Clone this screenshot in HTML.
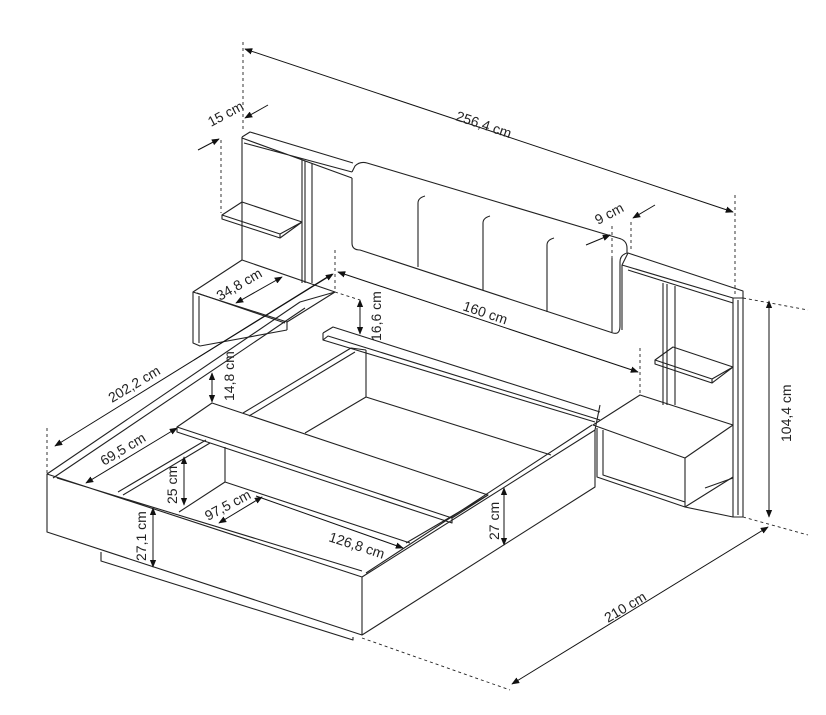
<!DOCTYPE html>
<html><head><meta charset="utf-8"><style>
html,body{margin:0;padding:0;background:#fff;}
svg{display:block;}
text{font-family:"Liberation Sans",sans-serif;font-size:14px;fill:#222;}
</style></head><body>
<svg width="826" height="715" viewBox="0 0 826 715" xmlns="http://www.w3.org/2000/svg">
<defs>
<marker id="a" viewBox="0 0 10 10" refX="9" refY="5" markerWidth="8" markerHeight="8" orient="auto-start-reverse"><path d="M0,1 L10,5 L0,9 z" fill="#111"/></marker>
</defs>
<g fill="none" stroke="#222" stroke-width="1.1" stroke-linejoin="round">
<g stroke-dasharray="3,3" stroke-width="0.9">
<line x1="243" y1="42" x2="243" y2="132"/>
<line x1="735" y1="195" x2="735" y2="296"/>
<line x1="743" y1="298" x2="808" y2="310"/>
<line x1="743" y1="517" x2="808" y2="535"/>
<line x1="221" y1="140" x2="221" y2="213"/>
<line x1="631" y1="222" x2="631" y2="250"/>
<line x1="612" y1="226" x2="612" y2="268"/>
<line x1="335" y1="250" x2="335" y2="292"/>
<line x1="640" y1="348" x2="640" y2="395"/>
<line x1="47" y1="428" x2="47" y2="473"/>
<line x1="362" y1="638" x2="510" y2="690"/>
<line x1="335" y1="292" x2="360" y2="300"/>
</g>
<path d="M242,137 L250,132 L353,163 M242,137 L242,260 M242,138 L352,178 M244,143 L352,172"/>
<path d="M302,160 L302,283 M305,161 L305,283 M312,163 L312,283"/>
<path d="M222,215 L242,202 L302,222 L280,238 L222,219 Z M222,215 L280,234 L302,222 M280,234 L280,238"/>
<path d="M352,178 L352,243 Q352,250 360,250 L613,333 Q620,335 620,326 L620,262 Q620,255 627,253 L627,248 Q627,240 618,238 L367,163 Q360,161 355,166 L352,172"/>
<path d="M612,258 L612,332"/>
<path d="M418,267 L418,203 Q418,198 425,196 M483,290 L483,223 Q483,218 490,216 M547,312 L547,245 Q547,240 554,238"/>
<path d="M622,265 L628,253 L743,291 L743,298 L733,298 L622,265 M622,265 L622,330"/>
<path d="M628,270 L733,303"/>
<path d="M733,298 L733,517 L743,517 L743,298 M738,300 L738,515"/>
<path d="M663,283 L663,405 M667,284 L667,405 M675,286 L675,405"/>
<path d="M655,360 L673,347 L733,367 L712,383 L655,364 Z M655,360 L712,379 L733,367 M712,379 L712,383"/>
<path d="M685,507 L733,517 M705,488 L733,478"/>
<path d="M193,292 L242,260 L335,292 L287,322 Z"/>
<path d="M193,292 L193,343 L200,346 L287,330 M287,322 L287,330 M199,296 L199,343 M197,293 L285,323"/>
<path d="M593,425 L640,395 L733,425 L685,458 Z"/>
<path d="M597,428 L597,477 L685,507 L685,458 M603,430 L603,475 L685,502 M685,507 L733,477"/>
<path d="M47,474 L300,302 M53,478 L305,308 M300,302 L335,292"/>
<path d="M47,474 L362,577 L362,635 L47,532 Z M57,478 L362,571"/>
<path d="M101,552 L101,561 L353,640 L353,637"/>
<path d="M362,577 L595,430 L600,405 M362,635 L595,487 L595,430 M366,573 L592,425"/>
<path d="M323,333 L333,327 L600,412 M323,333 L323,340 L595,422 M323,340 L328,336 L600,420"/>
<path d="M366,350 L366,397 L551,455 M366,397 L305,433"/>
<path d="M243,413 L351,348 M249,416 L355,352 M366,350 L351,348"/>
<path d="M177,427 L212,403 L488,495 L452,518 Z M177,427 L177,432 L452,523 L452,518"/>
<path d="M118,492 L206,440 M123,495 L210,443 M225,447 L225,482 L179,512 M225,482 L410,543"/>
<path d="M406,543 L488,495"/>
<g stroke="#111" stroke-width="1">
<line x1="245" y1="49" x2="733" y2="212" marker-start="url(#a)" marker-end="url(#a)"/>
<line x1="769" y1="301" x2="769" y2="517" marker-start="url(#a)" marker-end="url(#a)"/>
<line x1="512" y1="684" x2="768" y2="527" marker-start="url(#a)" marker-end="url(#a)"/>
<line x1="338" y1="272" x2="638" y2="372" marker-start="url(#a)" marker-end="url(#a)"/>
<line x1="55" y1="446" x2="333" y2="274" marker-start="url(#a)" marker-end="url(#a)"/>
<line x1="198" y1="150" x2="219" y2="139" marker-end="url(#a)"/>
<line x1="268" y1="105" x2="245" y2="118" marker-end="url(#a)"/>
<line x1="655" y1="205" x2="633" y2="218" marker-end="url(#a)"/>
<line x1="586" y1="245" x2="610" y2="235" marker-end="url(#a)"/>
<line x1="236" y1="303" x2="282" y2="277" marker-start="url(#a)" marker-end="url(#a)"/>
<line x1="194" y1="360" x2="332" y2="274"/>
<line x1="360" y1="300" x2="360" y2="334" marker-start="url(#a)" marker-end="url(#a)"/>
<line x1="212" y1="373" x2="212" y2="402" marker-start="url(#a)" marker-end="url(#a)"/>
<line x1="86" y1="483" x2="177" y2="428" marker-start="url(#a)" marker-end="url(#a)"/>
<line x1="184" y1="457" x2="184" y2="505" marker-start="url(#a)" marker-end="url(#a)"/>
<line x1="219" y1="523" x2="262" y2="497" marker-start="url(#a)" marker-end="url(#a)"/>
<line x1="256" y1="496" x2="403" y2="548" marker-end="url(#a)"/>
<line x1="153" y1="508" x2="153" y2="567" marker-start="url(#a)" marker-end="url(#a)"/>
<line x1="504" y1="488" x2="504" y2="545" marker-start="url(#a)" marker-end="url(#a)"/>
</g>
</g>
<text transform="translate(455,120) rotate(18.5)">256,4 cm</text>
<text transform="translate(211,127) rotate(-28)">15 cm</text>
<text transform="translate(598,225) rotate(-28)">9 cm</text>
<text transform="translate(462,310) rotate(18.5)">160 cm</text>
<text transform="translate(220,301) rotate(-30)">34,8 cm</text>
<text transform="translate(381,341) rotate(-90)">16,6 cm</text>
<text transform="translate(234,401) rotate(-90)">14,8 cm</text>
<text transform="translate(112,403) rotate(-31)">202,2 cm</text>
<text transform="translate(104,466) rotate(-31)">69,5 cm</text>
<text transform="translate(177,504) rotate(-90)">25 cm</text>
<text transform="translate(208,521) rotate(-28)">97,5 cm</text>
<text transform="translate(328,541) rotate(18)">126,8 cm</text>
<text transform="translate(146,561) rotate(-90)">27,1 cm</text>
<text transform="translate(499,540) rotate(-90)">27 cm</text>
<text transform="translate(791,442) rotate(-90)">104,4 cm</text>
<text transform="translate(608,623) rotate(-31)">210 cm</text>
</svg>
</body></html>
